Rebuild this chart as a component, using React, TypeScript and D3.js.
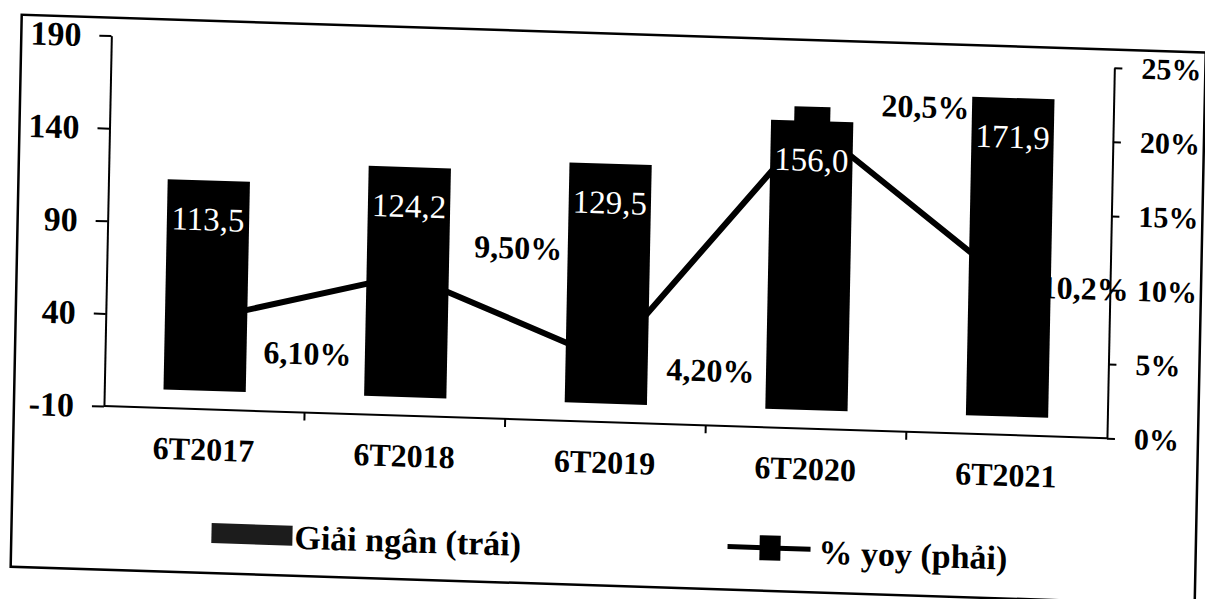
import React, { useEffect, useRef } from "react";
import * as d3 from "d3";

// values
const categories = ["6T2017", "6T2018", "6T2019", "6T2020", "6T2021"];
const disbursement = [113.5, 124.2, 129.5, 156.0, 171.9];
const disbursementLabels = ["113,5", "124,2", "129,5", "156,0", "171,9"];
const yoy = [0.061, 0.095, 0.042, 0.205, 0.102];
const yoyLabels = ["6,10%", "9,50%", "4,20%", "20,5%", "10,2%"];
const leftTicks = [-10, 40, 90, 140, 190];
const rightTicks = [0, 0.05, 0.1, 0.15, 0.2, 0.25];
// label offsets from each point (as placed in the original)
const yoyLabelNudge = [
  [58, 31],
  [66, -31],
  [60, 7],
  [69, -22],
  [31, 2],
];

const FONT = "'Liberation Serif', 'Times New Roman', serif";

const App = () => {
  const ref = useRef<SVGSVGElement>(null);

  useEffect(() => {
    const svg = d3.select(ref.current);
    svg.selectAll("*").remove();

    const left = 112;
    const right = 1115;
    const top = 32;
    const bottom = 402.5;

    // the scan is slightly tilted
    const g = svg
      .append("g")
      .attr("transform", "matrix(1,0.032,-0.02,1,0,0)");

    // outer frame
    g.append("rect")
      .attr("x", 22)
      .attr("y", 14)
      .attr("width", 1184)
      .attr("height", 552)
      .attr("fill", "none")
      .attr("stroke", "#000")
      .attr("stroke-width", 2.5);

    const x = d3
      .scaleBand()
      .domain(categories)
      .range([left, right])
      .paddingInner(0.59)
      .paddingOuter(0.295);
    const yL = d3.scaleLinear().domain([-10, 190]).range([bottom, top]);
    const yR = d3.scaleLinear().domain([0, 0.25]).range([bottom, top]);
    const cx = (c) => x(c) + x.bandwidth() / 2;

    // bars
    g.selectAll(".bar")
      .data(disbursement)
      .enter()
      .append("rect")
      .attr("class", "bar")
      .attr("x", (d, i) => x(categories[i]))
      .attr("y", (d) => yL(d))
      .attr("width", x.bandwidth())
      .attr("height", (d) => yL(0) - yL(d))
      .attr("fill", "#000");

    // yoy line
    const line = d3
      .line()
      .x((d, i) => cx(categories[i]))
      .y((d) => yR(d));
    g.append("path")
      .datum(yoy)
      .attr("d", line)
      .attr("fill", "none")
      .attr("stroke", "#000")
      .attr("stroke-width", 6)
      .attr("stroke-linejoin", "round");

    g.selectAll(".marker")
      .data(yoy)
      .enter()
      .append("rect")
      .attr("class", "marker")
      .attr("x", (d, i) => cx(categories[i]) - 18)
      .attr("y", (d) => yR(d) - 18)
      .attr("width", 36)
      .attr("height", 36)
      .attr("fill", "#000");

    // bar value labels
    g.selectAll(".bar-label")
      .data(disbursementLabels)
      .enter()
      .append("text")
      .attr("class", "bar-label")
      .attr("x", (d, i) => cx(categories[i]))
      .attr("y", (d, i) => yL(disbursement[i]) + 50)
      .attr("text-anchor", "middle")
      .attr("font-family", FONT)
      .attr("font-size", 33)
      .attr("fill", "#fff")
      .text((d) => d);

    // yoy labels
    g.selectAll(".yoy-label")
      .data(yoyLabels)
      .enter()
      .append("text")
      .attr("class", "yoy-label")
      .attr("x", (d, i) => cx(categories[i]) + yoyLabelNudge[i][0])
      .attr("y", (d, i) => yR(yoy[i]) + yoyLabelNudge[i][1])
      .attr("dy", "0.35em")
      .attr("font-family", FONT)
      .attr("font-size", 32)
      .attr("font-weight", "bold")
      .attr("fill", "#000")
      .text((d) => d);

    // left axis
    const axL = g
      .append("g")
      .attr("transform", `translate(${left},0)`)
      .call(
        d3
          .axisLeft(yL)
          .tickValues(leftTicks)
          .tickFormat((d) => String(d))
          .tickSize(12)
          .tickSizeOuter(0)
          .tickPadding(18)
      );
    axL.attr("font-family", FONT).attr("font-size", 34).attr("font-weight", "bold");

    // right axis
    const axR = g
      .append("g")
      .attr("transform", `translate(${right},0)`)
      .call(
        d3
          .axisRight(yR)
          .tickValues(rightTicks)
          .tickFormat((d) => `${Math.round(d * 100)}%`)
          .tickSize(8)
          .tickSizeOuter(0)
          .tickPadding(19)
      );
    axR.attr("font-family", FONT).attr("font-size", 30).attr("font-weight", "bold");

    [axL, axR].forEach((ax) => {
      ax.selectAll("path, line").attr("stroke", "#000").attr("stroke-width", 2);
      ax.selectAll("text").attr("fill", "#000");
    });

    // category axis
    g.append("line")
      .attr("x1", left)
      .attr("x2", right)
      .attr("y1", bottom)
      .attr("y2", bottom)
      .attr("stroke", "#000")
      .attr("stroke-width", 2);
    g.selectAll(".xtick")
      .data(categories.slice(1))
      .enter()
      .append("line")
      .attr("class", "xtick")
      .attr("x1", (d) => x(d) - (x.step() - x.bandwidth()) / 2)
      .attr("x2", (d) => x(d) - (x.step() - x.bandwidth()) / 2)
      .attr("y1", bottom)
      .attr("y2", bottom + 8)
      .attr("stroke", "#000")
      .attr("stroke-width", 2);
    g.selectAll(".xlabel")
      .data(categories)
      .enter()
      .append("text")
      .attr("class", "xlabel")
      .attr("x", (d) => cx(d))
      .attr("y", bottom + 51)
      .attr("text-anchor", "middle")
      .attr("font-family", FONT)
      .attr("font-size", 32)
      .attr("font-weight", "bold")
      .attr("fill", "#000")
      .text((d) => d);

    // legend
    const lg = g.append("g").attr("font-family", FONT).attr("font-size", 34).attr("font-weight", "bold");
    lg.append("rect")
      .attr("x", 222)
      .attr("y", 516)
      .attr("width", 81)
      .attr("height", 20)
      .attr("fill", "#1c1c1c");
    lg.append("text").attr("x", 305).attr("y", 539).text("Giải ngân (trái)");
    lg.append("line")
      .attr("x1", 738)
      .attr("x2", 821)
      .attr("y1", 523)
      .attr("y2", 523)
      .attr("stroke", "#000")
      .attr("stroke-width", 5);
    lg.append("rect")
      .attr("x", 770)
      .attr("y", 510.5)
      .attr("width", 21)
      .attr("height", 25)
      .attr("fill", "#000");
    lg.append("text").attr("x", 829).attr("y", 537).text("% yoy (phải)");
  }, []);

  return (
    <svg
      ref={ref}
      width={1205}
      height={599}
      style={{ position: "absolute", left: 0, top: 0, background: "#fff", display: "block" }}
    ></svg>
  );
};

export default App;
